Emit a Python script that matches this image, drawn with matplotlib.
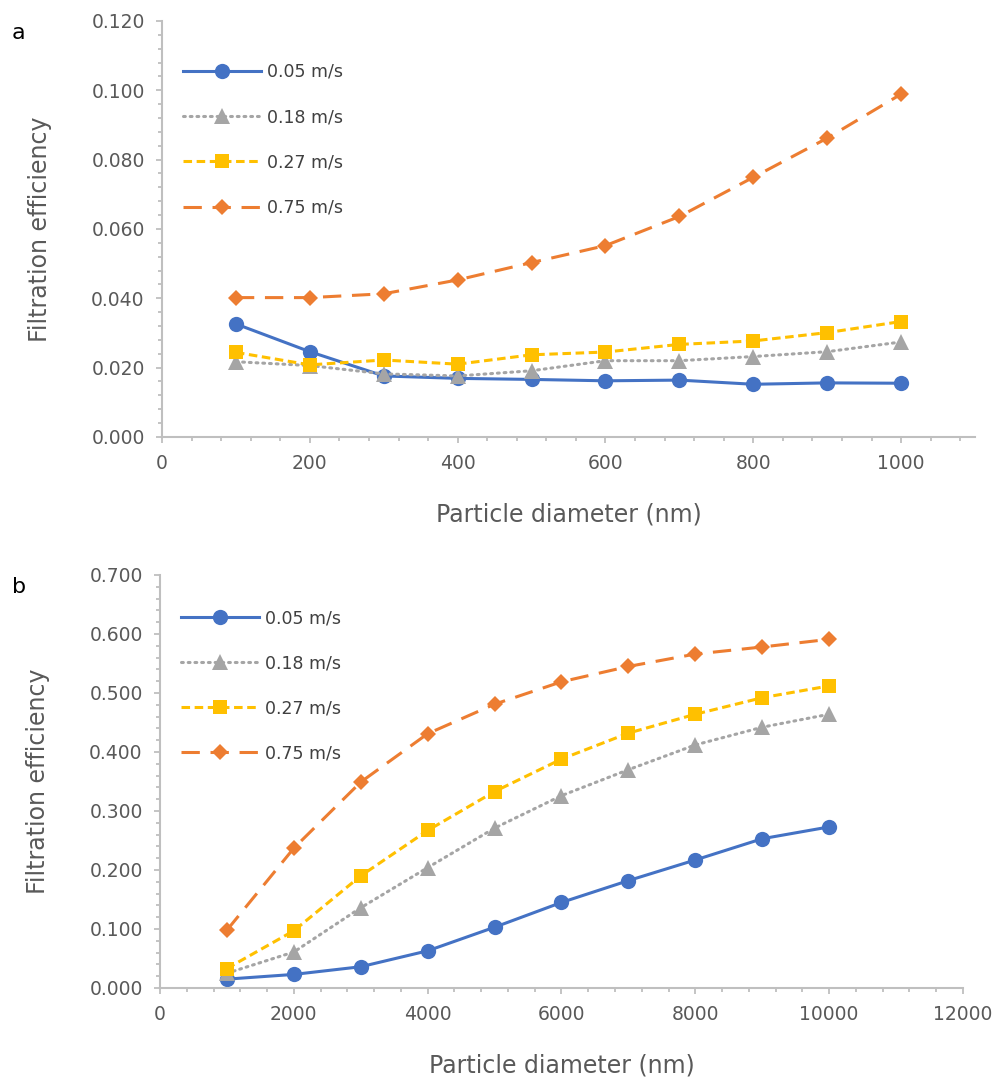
import matplotlib
matplotlib.use("Agg")
import matplotlib.pyplot as plt
from matplotlib.ticker import MultipleLocator, FormatStrFormatter

plt.rcParams['font.family'] = ['DejaVu Sans']

# speeds shared by both panels
speed_labels = ['0.05 m/s', '0.18 m/s', '0.27 m/s', '0.75 m/s']

# panel a: 100-1000 nm
diam_a = [100, 200, 300, 400, 500, 600, 700, 800, 900, 1000]
eff_a_005 = [0.0326, 0.0246, 0.0176, 0.0169, 0.0166, 0.0162, 0.0164, 0.0152, 0.0156, 0.0155]
eff_a_018 = [0.0217, 0.0206, 0.0182, 0.0176, 0.0191, 0.0220, 0.0220, 0.0232, 0.0246, 0.0274]
eff_a_027 = [0.0244, 0.0208, 0.0222, 0.0210, 0.0237, 0.0245, 0.0267, 0.0277, 0.0301, 0.0333]
eff_a_075 = [0.0402, 0.0402, 0.0413, 0.0453, 0.0503, 0.0552, 0.0636, 0.0749, 0.0862, 0.0989]

# panel b: 1000-10000 nm
diam_b = [1000, 2000, 3000, 4000, 5000, 6000, 7000, 8000, 9000, 10000]
eff_b_005 = [0.015, 0.023, 0.036, 0.063, 0.103, 0.145, 0.182, 0.217, 0.253, 0.273]
eff_b_018 = [0.025, 0.061, 0.136, 0.204, 0.271, 0.326, 0.370, 0.412, 0.442, 0.464]
eff_b_027 = [0.033, 0.097, 0.190, 0.267, 0.333, 0.388, 0.432, 0.464, 0.492, 0.512]
eff_b_075 = [0.098, 0.237, 0.349, 0.431, 0.481, 0.519, 0.545, 0.566, 0.578, 0.591]

styles = [
    dict(color='#4472C4', linestyle='-', marker='o', markersize=11),
    dict(color='#A5A5A5', linestyle=(0, (0.6, 1.6)), marker='^', markersize=11,
         dash_capstyle='round'),
    dict(color='#FFC000', linestyle=(0, (2.8, 1.5)), marker='s', markersize=10.5),
    dict(color='#ED7D31', linestyle=(0, (6, 3.5)), marker='D', markersize=8),
]

AXIS_GREY = '#BFBFBF'
TEXT_GREY = '#595959'


def draw_panel(ax, x, series, xlim, ylim, xmaj, xmin, ymaj, ymin, tag, leg_y, leg_sp):
    for ys, lab, st in zip(series, speed_labels, styles):
        ax.plot(x, ys, label=lab, linewidth=2.2, markeredgewidth=0, **st)
    ax.set_xlim(*xlim)
    ax.set_ylim(*ylim)
    ax.xaxis.set_major_locator(MultipleLocator(xmaj))
    ax.xaxis.set_minor_locator(MultipleLocator(xmin))
    ax.yaxis.set_major_locator(MultipleLocator(ymaj))
    ax.yaxis.set_minor_locator(MultipleLocator(ymin))
    ax.yaxis.set_major_formatter(FormatStrFormatter('%.3f'))
    for side in ('top', 'right'):
        ax.spines[side].set_visible(False)
    for side in ('left', 'bottom'):
        ax.spines[side].set_color(AXIS_GREY)
        ax.spines[side].set_linewidth(1.5)
    ax.tick_params(which='major', length=4.5, width=1.3, color=AXIS_GREY,
                   labelcolor=TEXT_GREY, labelsize=13.5, pad=8)
    ax.tick_params(which='minor', length=3, width=1.3, color=AXIS_GREY)
    ax.set_xlabel('Particle diameter (nm)', fontsize=17, color=TEXT_GREY, labelpad=21)
    ax.set_ylabel('Filtration efficiency', fontsize=17, color=TEXT_GREY, labelpad=28)
    leg = ax.legend(loc='upper left', bbox_to_anchor=(0.0, leg_y), frameon=False,
                    fontsize=12.5, handlelength=4.5, labelspacing=leg_sp, numpoints=1,
                    handletextpad=0.35, borderaxespad=0.8)
    for t in leg.get_texts():
        t.set_color('#404040')
    ax.figure.text(0.012, ax.get_position().y1 - 0.002, tag, fontsize=16,
                   color='black', va='top')


fig = plt.figure(figsize=(10.05, 10.8), dpi=100)
ax_a = fig.add_axes([0.1612, 0.5954, 0.809, 0.3852])
ax_b = fig.add_axes([0.1592, 0.0852, 0.799, 0.3824])

draw_panel(ax_a, diam_a, [eff_a_005, eff_a_018, eff_a_027, eff_a_075],
           (0, 1100), (0, 0.12), 200, 40, 0.02, 0.004, 'a', 0.95, 1.58)
draw_panel(ax_b, diam_b, [eff_b_005, eff_b_018, eff_b_027, eff_b_075],
           (0, 12000), (0, 0.7), 2000, 400, 0.1, 0.02, 'b', 0.968, 1.56)

fig.savefig('out.png', dpi=100)
